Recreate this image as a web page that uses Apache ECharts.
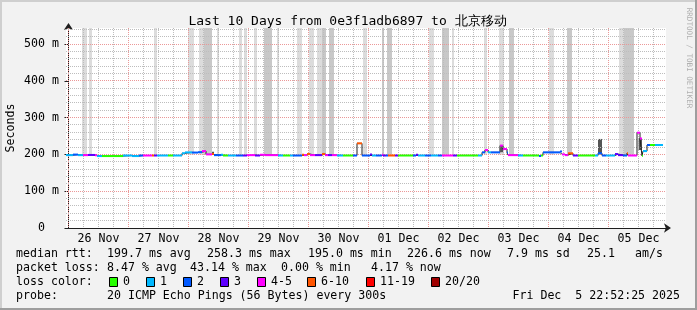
<!DOCTYPE html>
<html><head><meta charset="utf-8">
<script src="https://cdn.jsdelivr.net/npm/echarts@6/dist/echarts.min.js"></script>
<style>html,body{margin:0;padding:0;background:#f2f2f2}#c{width:697px;height:310px}</style>
</head><body><div id="c"></div>
<script>
// ---- data ----
const dayLabels = ['26 Nov','27 Nov','28 Nov','29 Nov','30 Nov','01 Dec','02 Dec','03 Dec','04 Dec','05 Dec'];
const dayNoon = [12,36,60,84,108,132,156,180,204,228]; // hours since 26 Nov 00:00
const yTicks = [0,100,200,300,400,500];
// median rtt segments (hours since 26 Nov 00:00, ms, lost pings of 20)
const segStart = [-1.0,1.8,3.8,5.8,7.8,10.6,11.4,13.4,21.8,25.4,
  28.2,29.8,33.4,34.2,35.4,39.8,41.8,45.4,46.6,49.4,
  51.8,53.4,55.0,57.4,58.2,61.0,61.8,63.8,67.0,69.8,
  71.4,74.6,76.6,78.6,83.8,85.8,88.6,89.8,93.4,94.2,
  95.4,96.6,98.6,101.4,102.6,103.8,105.4,107.4,109.8,113.8,
  115.4,117.4,120.6,121.4,123.0,125.4,125.8,127.0,127.8,130.6,
  131.8,137.8,139.0,139.8,142.6,145.0,147.8,149.4,153.8,155.4,
  163.8,165.4,166.6,167.8,169.0,172.6,173.8,175.4,175.8,179.8,
  181.8,188.2,189.0,189.8,196.6,197.4,198.6,199.8,201.8,203.8,
  210.6,211.8,213.4,215.0,218.6,219.8,221.8,223.4,223.8,227.4,
  228.6,229.4,229.8,231.4,232.6,234.6];
const segRtt = [198,199.5,198,198,198.5,198,195.5,195.5,197,195.5,
  197,197,197,197,197,197,197,203,205.5,205,
  206,209,200,201,198,199,197,197,197,197,
  198,197,199,198,197,197,197,197,199,198,
  201,198,198,201,198,198,198,197,197,197,
  230,197,200,197,197,199,197,197,197,197,
  197,197,199,197,197,197,197,197,197,197,
  197,205.5,212,205.5,205.5,224,214.5,205,198,197,
  197,195.5,197,205.5,208,200,198,203,197,197,
  197,203,197,197,201,198,197,203,197,259,
  243,196,209,225.5,225.5,225.5];
const segLoss = [1,2,1,4,3,4,1,0,1,1,
  2,4,8,3,1,0,1,1,1,2,
  2,4,4,8,2,1,0,1,2,3,
  4,3,4,4,1,0,1,2,8,4,
  8,4,3,8,4,3,4,1,0,2,
  8,2,3,1,2,4,3,2,8,3,
  0,2,3,1,2,1,2,4,3,0,
  1,2,4,1,2,4,4,2,4,1,
  0,2,0,2,2,4,4,8,3,0,
  1,2,2,1,3,3,2,8,4,4,
  4,0,1,2,0,1];
const lineEnd = 237.8;
// smoke bands (full height)
const bandStart = [5.4,8.2,34.2,47.8,52.2,54.2,59.4,68.2,70.2,74.2,78.2,83.4,91.4,96.2,99.4,101.4,104.2,117.8,125.4,127.4,144.2,149.4,153.4,166.2,172.2,176.2,192.2,199.4,220.2,222.2];
const bandEnd   = [7.4,9.4,35.4,50.2,54.2,57.4,60.2,69.4,71.4,75.4,81.4,84.2,93.4,98.2,101.4,103.0,106.2,119.4,126.2,129.4,146.2,152.2,154.2,167.4,174.2,178.2,194.2,201.4,222.2,226.2];
const bandDark  = [0,0,0,0,0,1,0,0,0,0,1,0,0,0,0,1,1,0,1,1,0,1,0,0,0,1,0,1,0,1];
// small dense smoke blocks
const smokeStart = [57.4,172.8,211.8,228.0];
const smokeEnd   = [58.2,173.8,213.4,229.4];
const smokeLow   = [201,206,200,212];
const smokeHigh  = [207,225,242,244];

// ---- chart ----
const FONT = '"DejaVu Sans Mono", monospace';
const FS = 11.6;
const xMin = -1.0, xMax = 239.0, yMax = 543.5;
function lossColor(n){
  if(n===0) return '#26ff00'; if(n===1) return '#00b8ff'; if(n===2) return '#0059ff';
  if(n===3) return '#5e00ff'; if(n<=5) return '#ff00ff'; if(n<=10) return '#ff5500';
  if(n<=19) return '#ff0000'; return '#a00000';
}
const segData = segStart.map((s,i)=>[s, i+1<segStart.length?segStart[i+1]:lineEnd, segRtt[i], segLoss[i]]);
const stepData = segStart.map((s,i)=>[s, segRtt[i]]).concat([[lineEnd, segRtt[segRtt.length-1]]]);
const bandData = bandStart.map((s,i)=>[s, bandEnd[i], 199, yMax, bandDark[i]]);
const smokeData = smokeStart.map((s,i)=>[s, smokeEnd[i], smokeLow[i], smokeHigh[i]]);
// grid line values
const gridV = [];
for(let h=Math.ceil(xMin/6)*6; h<=xMax; h+=6){ if(h>xMin) gridV.push([h, h%24===0?1:0]); }
const gridH = [];
for(let v=20; v<yMax; v+=20){ gridH.push([v, v%100===0?1:0]); }

const chart = echarts.init(document.getElementById('c'));
function rectItem(params, api, x0, x1, y0, y1, fill){
  const p0 = api.coord([x0, y1]), p1 = api.coord([x1, y0]);
  return {type:'rect', shape:{x:p0[0], y:p0[1], width:p1[0]-p0[0], height:p1[1]-p0[1]}, style:{fill:fill}};
}
const legendItems = [['0',0],['1',1],['2',2],['3',3],['4-5',4],['6-10',8],['11-19',15],['20/20',20]];
const legendBoxX = [109,146,183,220,257,307,366,431];
const graphics = [
  {type:'rect', shape:{x:0,y:0,width:697,height:2}, style:{fill:'#cfcfcf'}},
  {type:'rect', shape:{x:0,y:0,width:2,height:310}, style:{fill:'#cfcfcf'}},
  {type:'rect', shape:{x:0,y:308,width:697,height:2}, style:{fill:'#9e9e9e'}},
  {type:'rect', shape:{x:695,y:0,width:2,height:310}, style:{fill:'#9e9e9e'}},
  {type:'text', x:347.5, y:22, style:{text:'Last 10 Days from 0e3f1adb6897 to 北京移动', font:'13px '+FONT, fill:'#000', align:'center', verticalAlign:'middle'}},
  {type:'text', x:11, y:128, rotation:Math.PI/2, style:{text:'Seconds', font:FS+'px '+FONT, fill:'#000', align:'center', verticalAlign:'middle'}},
  {type:'text', x:689, y:58, rotation:-Math.PI/2, style:{text:'RRDTOOL / TOBI OETIKER', font:'7.6px '+FONT, fill:'#b0b0b0', align:'center', verticalAlign:'middle'}},
];
function txt(x,y,s){ graphics.push({type:'text', x:x, y:y, style:{text:s, font:FS+'px '+FONT, fill:'#000', align:'left', verticalAlign:'middle'}}); }
txt(16,254.3,'median rtt:'); txt(107,254.3,'199.7 ms avg'); txt(207,254.3,'258.3 ms max'); txt(308,254.3,'195.0 ms min');
txt(407,254.3,'226.6 ms now'); txt(507,254.3,'7.9 ms sd'); txt(587,254.3,'25.1'); txt(635,254.3,'am/s');
txt(16,268.3,'packet loss:'); txt(107,268.3,'8.47 % avg'); txt(190,268.3,'43.14 % max'); txt(281,268.3,'0.00 % min'); txt(371,268.3,'4.17 % now');
txt(16,282.3,'loss color:');
legendItems.forEach((it,i)=>{
  graphics.push({type:'rect', shape:{x:legendBoxX[i]+0.5,y:277.5,width:8,height:9}, style:{fill:lossColor(it[1]), stroke:'#000', lineWidth:1}});
  txt(legendBoxX[i]+14,282.3,it[0]);
});
txt(16,296.3,'probe:'); txt(107,296.3,'20 ICMP Echo Pings (56 Bytes) every 300s');
graphics.push({type:'text', x:680, y:296.3, style:{text:'Fri Dec  5 22:52:25 2025', font:FS+'px '+FONT, fill:'#000', align:'right', verticalAlign:'middle'}});

chart.setOption({
  animation:false,
  backgroundColor:'#f2f2f2',
  grid:{left:66, top:28, width:600, height:200, show:true, backgroundColor:'#ffffff', borderWidth:0},
  xAxis:{type:'value', min:xMin, max:xMax,
    axisLine:{show:true, lineStyle:{color:'#1f1f1f', width:1}, symbol:['none','arrow'], symbolSize:[7,7], symbolOffset:[0,5]},
    axisTick:{show:false}, splitLine:{show:false},
    axisLabel:{customValues:dayNoon, margin:5, fontFamily:'DejaVu Sans Mono', fontSize:FS, color:'#000',
      formatter:(v)=>dayLabels[Math.round((v-12)/24)]||''}},
  yAxis:{type:'value', min:0, max:yMax, interval:100,
    axisLine:{show:true, lineStyle:{color:'#1f1f1f', width:1}, symbol:['none','arrow'], symbolSize:[7,7], symbolOffset:[0,5]},
    axisTick:{show:true, length:4, customValues:yTicks, lineStyle:{color:'#1f1f1f'}},
    splitLine:{show:false},
    axisLabel:{customValues:yTicks, margin:7, fontFamily:'DejaVu Sans Mono', fontSize:FS, color:'#000',
      formatter:(v)=> v===0 ? '0  ' : (v%100===0 ? v+' m' : '')}},
  graphic:graphics,
  series:[
    {type:'custom', z:1, silent:true, data:bandData, encode:{x:[0,1], y:[2,3]},
      renderItem:(params, api)=>rectItem(params, api, api.value(0), api.value(1), api.value(2), api.value(3), api.value(4)?'#c8c8c8':'#dcdcdc')},
    {type:'custom', z:2, silent:true, data:smokeData, encode:{x:[0,1], y:[2,3]},
      renderItem:(params, api)=>rectItem(params, api, api.value(0), api.value(1), api.value(2), api.value(3), '#555555')},
    {type:'custom', z:3, silent:true, data:gridV, encode:{x:0},
      renderItem:(params, api)=>{
        const x = Math.floor(api.coord([api.value(0), 0])[0]) + 0.5;
        const yt = api.coord([0, yMax])[1], yb = api.coord([0, 0])[1];
        return {type:'line', shape:{x1:x, y1:yt, x2:x, y2:yb}, style:{stroke: api.value(1)?'#eb9898':'#bdbdbd', lineWidth:1, lineDash:[1,1]}};
      }},
    {type:'custom', z:3, silent:true, data:gridH, encode:{y:0},
      renderItem:(params, api)=>{
        const y = Math.floor(api.coord([0, api.value(0)])[1]) + 0.5;
        const xl = api.coord([xMin, 0])[0], xr = api.coord([xMax, 0])[0];
        return {type:'line', shape:{x1:xl, y1:y, x2:xr, y2:y}, style:{stroke: api.value(1)?'#eb9898':'#bdbdbd', lineWidth:1, lineDash:[1,1]}};
      }},
    {type:'line', z:4, silent:true, step:'end', data:stepData, showSymbol:false, symbol:'none',
      lineStyle:{color:'#202020', width:1}},
    {type:'custom', z:5, silent:true, data:segData, encode:{x:[0,1], y:2},
      renderItem:(params, api)=>{
        const p0 = api.coord([api.value(0), api.value(2)]), p1 = api.coord([api.value(1), api.value(2)]);
        return {type:'rect', shape:{x:p0[0], y:p0[1]-1, width:p1[0]-p0[0], height:2}, style:{fill:lossColor(api.value(3))}};
      }}
  ]
});
</script></body></html>
